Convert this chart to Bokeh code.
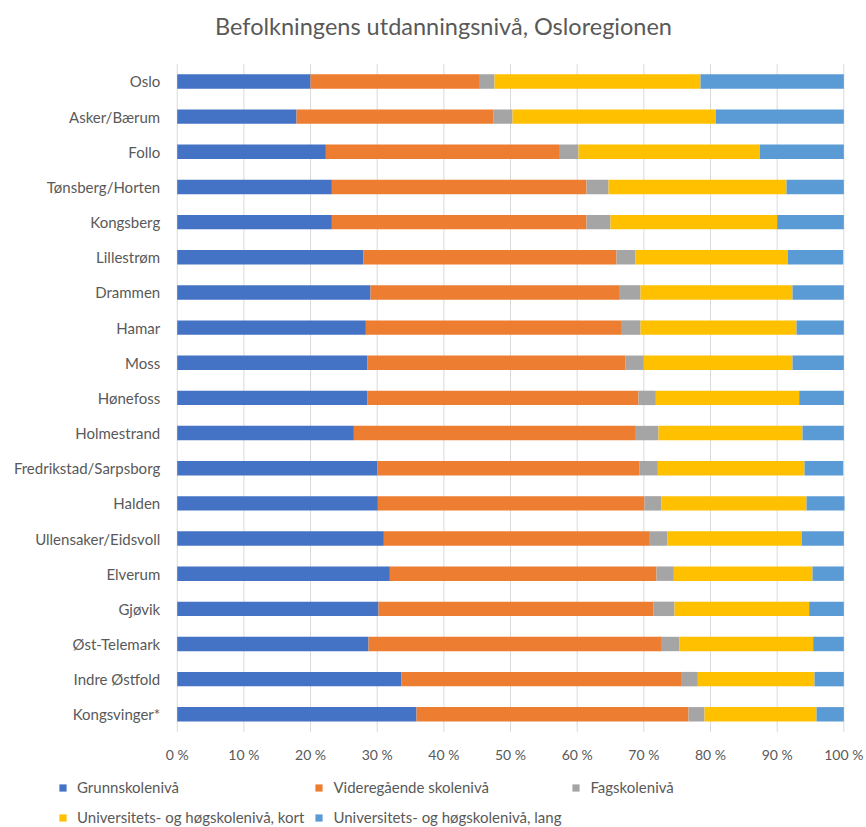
from bokeh.plotting import figure
from bokeh.models import (ColumnDataSource, Range1d, FixedTicker, PrintfTickFormatter,
                          LinearAxis, Label)
from bokeh.embed import file_html
from bokeh.resources import INLINE

regions = ["Oslo", "Asker/Bærum", "Follo", "Tønsberg/Horten", "Kongsberg", "Lillestrøm",
           "Drammen", "Hamar", "Moss", "Hønefoss", "Holmestrand", "Fredrikstad/Sarpsborg",
           "Halden", "Ullensaker/Eidsvoll", "Elverum", "Gjøvik", "Øst-Telemark",
           "Indre Østfold", "Kongsvinger*"]

grunnskole = [20.0, 17.9, 22.3, 23.2, 23.2, 27.9, 29.0, 28.3, 28.5, 28.5, 26.5, 30.0, 30.1, 31.0, 31.9, 30.2, 28.7, 33.6, 35.9]
videregaende = [25.4, 29.5, 35.1, 38.2, 38.2, 38.0, 37.4, 38.4, 38.7, 40.7, 42.3, 39.3, 40.0, 39.9, 40.0, 41.2, 44.0, 42.1, 40.8]
fagskole = [2.2, 2.9, 2.8, 3.3, 3.6, 2.8, 3.1, 2.8, 2.8, 2.6, 3.4, 2.8, 2.5, 2.6, 2.6, 3.2, 2.6, 2.4, 2.4]
uni_kort = [30.9, 30.5, 27.2, 26.7, 25.0, 22.9, 22.8, 23.4, 22.3, 21.5, 21.6, 22.0, 21.8, 20.2, 20.8, 20.2, 20.1, 17.5, 16.8]
uni_lang = [21.5, 19.2, 12.6, 8.6, 10.0, 8.3, 7.7, 7.1, 7.7, 6.7, 6.2, 5.8, 5.7, 6.3, 4.7, 5.2, 4.6, 4.4, 4.1]

series_labels = ["Grunnskolenivå", "Videregående skolenivå", "Fagskolenivå",
                 "Universitets- og høgskolenivå, kort", "Universitets- og høgskolenivå, lang"]
colors = ["#4472C4", "#ED7D31", "#A5A5A5", "#FFC000", "#5B9BD5"]
x_ticks = [0, 10, 20, 30, 40, 50, 60, 70, 80, 90, 100]
title_text = "Befolkningens utdanningsnivå, Osloregionen"

FONT = "Lato"
TXT = "#595959"

n = len(regions)
idx = list(range(n))
keys = ["g", "v", "f", "uk", "ul"]
source = ColumnDataSource(data=dict(idx=idx, g=grunnskole, v=videregaende,
                                    f=fagskole, uk=uni_kort, ul=uni_lang))
grid_src = ColumnDataSource(data=dict(x=x_ticks, y0=[-0.5] * len(x_ticks),
                                      y1=[n - 0.5] * len(x_ticks)))

# frame covers the whole canvas; axes are pinned inside it
p = figure(width=866, height=827, output_backend="svg", toolbar_location=None,
           x_range=Range1d(-26.51, 103.4), y_range=Range1d(21.22, -2.304),
           x_axis_location=None, y_axis_location=None,
           min_border_left=0, min_border_right=0, min_border_top=0, min_border_bottom=0)
p.outline_line_color = None
p.xgrid.visible = False
p.ygrid.visible = False

p.segment(x0="x", y0="y0", x1="x", y1="y1", source=grid_src,
          line_color="#D9D9D9", line_width=1)

renderers = p.hbar_stack(keys, y="idx", height=0.41, color=colors, source=source,
                         line_color=None, legend_label=series_labels)

xaxis = LinearAxis(fixed_location=n - 0.5, ticker=FixedTicker(ticks=x_ticks),
                   formatter=PrintfTickFormatter(format="%d %%"))
xaxis.axis_line_color = None
xaxis.major_tick_line_color = None
xaxis.minor_tick_line_color = None
xaxis.major_tick_out = 0
xaxis.major_tick_in = 0
xaxis.minor_tick_out = 0
xaxis.major_label_standoff = 14
xaxis.major_label_text_font = FONT
xaxis.major_label_text_font_size = "14px"
xaxis.major_label_text_color = TXT
p.add_layout(xaxis, "below")

yaxis = LinearAxis(fixed_location=0, ticker=FixedTicker(ticks=idx),
                   major_label_overrides={i: r for i, r in zip(idx, regions)})
yaxis.axis_line_color = None
yaxis.major_tick_line_color = None
yaxis.minor_tick_line_color = None
yaxis.major_tick_out = 0
yaxis.major_tick_in = 0
yaxis.minor_tick_out = 0
yaxis.major_label_standoff = 17
yaxis.major_label_text_font = FONT
yaxis.major_label_text_font_size = "15px"
yaxis.major_label_text_color = TXT
p.add_layout(yaxis, "left")

leg = p.legend[0]
leg.ncols = 3
leg.orientation = "horizontal"
leg.location = (58, 0)
leg.border_line_color = None
leg.background_fill_alpha = 0
leg.padding = 0
leg.margin = 0
leg.spacing = 10
leg.glyph_width = 9
leg.glyph_height = 9
leg.label_height = 20
leg.label_standoff = 10
leg.label_text_font = FONT
leg.label_text_font_size = "15px"
leg.label_text_color = TXT

p.add_layout(Label(x=443, y=802, x_units="screen", y_units="screen", text=title_text,
                   text_align="center", text_baseline="middle", text_font=FONT,
                   text_font_size="23.5px", text_color=TXT))

open("out.html", "w").write(file_html(p, INLINE))
